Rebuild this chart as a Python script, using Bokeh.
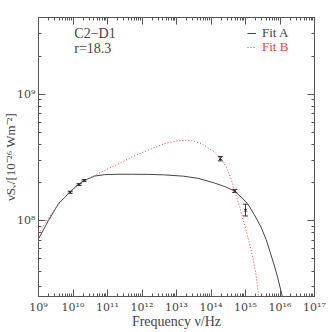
from bokeh.plotting import figure
from bokeh.models import (LogAxis, FixedTicker, CustomJSTickFormatter, Whisker,
                          ColumnDataSource, Legend, LegendItem, Label, TeeHead)
from bokeh.embed import file_html
from bokeh.resources import INLINE

# ---- data (log10 values) ----
fitA_lognu = [9.0, 9.29, 9.58, 9.91, 10.15, 10.39, 10.63, 10.92, 11.3, 11.7, 12.2,
              12.66, 13.2, 13.62, 14.1, 14.4, 14.68, 14.9, 15.06, 15.25, 15.45,
              15.6, 15.73, 15.83, 15.93, 16.05, 16.1]
fitA_logS = [7.857, 8.002, 8.135, 8.226, 8.287, 8.325, 8.353, 8.364, 8.367, 8.367, 8.366,
             8.362, 8.352, 8.335, 8.298, 8.27, 8.234, 8.18, 8.135, 8.05, 7.95,
             7.85, 7.739, 7.65, 7.554, 7.42, 7.35]

fitB_lognu = [9.0, 9.38, 9.67, 9.96, 10.39, 10.92, 11.4, 11.705, 12.2, 12.66, 13.0,
              13.29, 13.5, 13.72, 14.1, 14.295, 14.45, 14.58, 14.68, 14.83, 14.965,
              15.1, 15.21, 15.3, 15.35, 15.39]
fitB_logS = [7.90, 8.055, 8.161, 8.24, 8.325, 8.398, 8.46, 8.504, 8.56, 8.61, 8.63,
             8.636, 8.628, 8.61, 8.543, 8.49, 8.42, 8.333, 8.24, 8.11, 7.976,
             7.84, 7.712, 7.58, 7.474, 7.38]

obs_nu = [8.3e9, 1.5e10, 2.1e10, 1.86e14, 4.9e14, 1.0e15]
obs_S = [1.68e8, 1.93e8, 2.08e8, 3.09e8, 1.72e8, 1.21e8]
obs_lo = [1.65e8, 1.90e8, 2.05e8, 2.97e8, 1.67e8, 1.09e8]
obs_hi = [1.71e8, 1.96e8, 2.11e8, 3.22e8, 1.77e8, 1.35e8]

x_ticks = [1e9, 1e10, 1e11, 1e12, 1e13, 1e14, 1e15, 1e16, 1e17]
x_tick_labels = ["10⁹", "10¹⁰", "10¹¹", "10¹²", "10¹³", "10¹⁴", "10¹⁵", "10¹⁶", "10¹⁷"]
y_ticks = [1e8, 1e9]
y_tick_labels = ["10⁸", "10⁹"]

source_name = "C2−D1"
source_r = "r=18.3"

FONT = "Liberation Serif"
TICKFONT = "DejaVu Serif"
AXC = "#555555"
TXT = "#444444"
RED = "#ff3a3a"

x_minor = [float(m) * 10.0 ** e for e in range(9, 17) for m in range(2, 10)]
y_minor = [float(m) * 10.0 ** e for e in range(7, 10) for m in range(2, 10)]

p = figure(width=332, height=332, x_axis_type="log", y_axis_type="log",
           x_range=(1e9, 1e17), y_range=(2.52e7, 4.03e9),
           output_backend="svg", toolbar_location=None,
           min_border_left=36, min_border_right=18, min_border_top=17, min_border_bottom=36)
p.grid.visible = False
p.outline_line_color = AXC
p.background_fill_color = "white"
p.border_fill_color = "white"

fmt_code = """
const lt = Math.log10(tick);
for (let i = 0; i < tv.length; i++) {
  if (Math.abs(Math.log10(tv[i]) - lt) < 1e-6) return labs[i];
}
return "";
"""

def style_axis(ax, tks, minor, labels, show):
    ax.ticker = FixedTicker(ticks=tks, minor_ticks=minor)
    ax.formatter = CustomJSTickFormatter(args=dict(tv=tks, labs=labels if show else [""] * len(tks)),
                                         code=fmt_code)
    ax.axis_line_color = AXC
    ax.major_tick_line_color = AXC
    ax.minor_tick_line_color = AXC
    ax.major_tick_in = 7
    ax.major_tick_out = 0
    ax.minor_tick_in = 3
    ax.minor_tick_out = 0
    ax.major_label_text_font = TICKFONT
    ax.major_label_text_font_size = "11px" if show else "0px"
    ax.major_label_text_color = TXT
    ax.axis_label_text_font = FONT
    ax.axis_label_text_font_style = "normal"
    ax.axis_label_text_color = TXT

style_axis(p.xaxis[0], x_ticks, x_minor, x_tick_labels, True)
style_axis(p.yaxis[0], y_ticks, y_minor, y_tick_labels, True)
p.xaxis[0].major_label_standoff = 4
p.xaxis[0].axis_label_standoff = -3
p.xaxis[0].axis_label_text_font_size = "14px"
p.yaxis[0].major_label_standoff = 3
p.yaxis[0].axis_label_standoff = -4
p.yaxis[0].axis_label_text_font_size = "13px"
p.yaxis[0].major_label_orientation = "horizontal"
p.xaxis[0].axis_label = "Frequency ν/Hz"
p.yaxis[0].axis_label = "νSᵥ/[10⁻²⁶ Wm⁻²]"

top = LogAxis()
style_axis(top, x_ticks, x_minor, x_tick_labels, False)
top.major_label_standoff = 0
right = LogAxis()
style_axis(right, y_ticks, y_minor, y_tick_labels, False)
right.major_label_standoff = 0
p.add_layout(top, "above")
p.add_layout(right, "right")

# curves
rA = p.line([10.0 ** v for v in fitA_lognu], [10.0 ** v for v in fitA_logS],
            line_color="#444444", line_width=1)
rB = p.line([10.0 ** v for v in fitB_lognu], [10.0 ** v for v in fitB_logS],
            line_color=RED, line_width=1, line_dash="1 2")

# observations
src = ColumnDataSource(dict(x=obs_nu, y=obs_S, lo=obs_lo, hi=obs_hi))
w = Whisker(source=src, base="x", lower="lo", upper="hi", line_color="#333333", line_width=1,
            upper_head=TeeHead(size=5, line_color="#333333"),
            lower_head=TeeHead(size=5, line_color="#333333"))
p.add_layout(w)
p.scatter("x", "y", source=src, marker="x", size=4, line_color="#222222", line_width=1)

# legends
leg_style = dict(label_text_font=FONT, label_text_font_size="13px",
                 glyph_width=9, glyph_height=10, label_height=10, label_standoff=6,
                 padding=0, margin=0, spacing=0, border_line_color=None, background_fill_alpha=0)
legA = Legend(items=[LegendItem(label="Fit A", renderers=[rA])], location=(209, 255),
              label_text_color=TXT, **leg_style)
legB = Legend(items=[LegendItem(label="Fit B", renderers=[rB])], location=(209, 241),
              label_text_color=RED, **leg_style)
p.add_layout(legA)
p.add_layout(legB)

for txt, yy in [(source_name, 2.99e9), (source_r, 2.31e9)]:
    p.add_layout(Label(x=1.09e10, y=yy, text=txt, text_font=FONT, text_font_size="14px",
                       text_color=TXT, text_baseline="middle"))

open("out.html", "w").write(file_html(p, INLINE))
